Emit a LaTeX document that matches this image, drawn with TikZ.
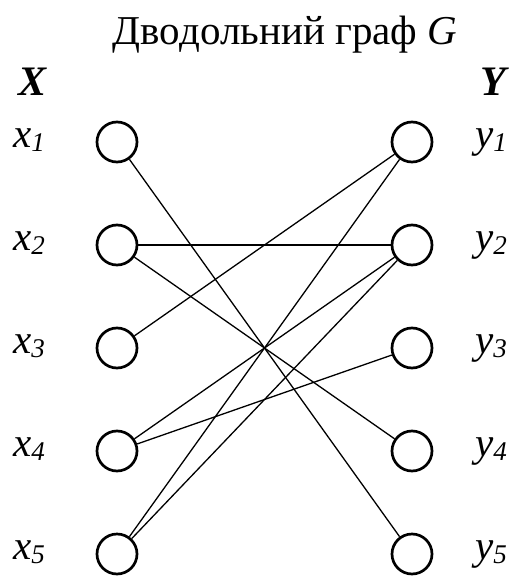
\documentclass[tikz,border=0pt]{standalone}
\usepackage{fontspec}
\setmainfont{Liberation Serif}
\newcommand{\idx}[1]{\raisebox{-4pt}{\fontsize{27}{29}\selectfont #1}}
\begin{document}
\begin{tikzpicture}[x=1pt, y=-1pt,
  vert/.style={draw, circle, line width=2.7pt, minimum size=40pt, inner sep=0pt},
  lbl/.style={font=\fontsize{41}{45}\selectfont\itshape, anchor=base west, inner sep=0pt},
  link/.style={line width=1.3pt}]
  \useasboundingbox (0,0) rectangle (514,578);

  \node[font=\fontsize{41}{45}\selectfont, anchor=base, inner sep=0pt] (title) at (285,45)
    {Дводольний граф \textit{G}};
  \node[lbl, font=\fontsize{42}{46}\selectfont\bfseries\itshape] (setX) at (18,95) {X};
  \node[lbl, font=\fontsize{42}{46}\selectfont\bfseries\itshape] (setY) at (480,95) {Y};

  % left part
  \node[vert] (x1) at (117,142) {};
  \node[vert] (x2) at (117,245) {};
  \node[vert] (x3) at (117,348) {};
  \node[vert] (x4) at (117,451) {};
  \node[vert] (x5) at (117,554) {};
  \node[lbl] (lx1) at (13,147) {x\idx{1}};
  \node[lbl] (lx2) at (13,250) {x\idx{2}};
  \node[lbl] (lx3) at (13,353) {x\idx{3}};
  \node[lbl] (lx4) at (13,456) {x\idx{4}};
  \node[lbl] (lx5) at (13,559) {x\idx{5}};

  % right part
  \node[vert] (y1) at (412,142) {};
  \node[vert] (y2) at (412,245) {};
  \node[vert] (y3) at (412,348) {};
  \node[vert] (y4) at (412,451) {};
  \node[vert] (y5) at (412,554) {};
  \node[lbl] (ly1) at (475,147) {y\idx{1}};
  \node[lbl] (ly2) at (475,250) {y\idx{2}};
  \node[lbl] (ly3) at (475,353) {y\idx{3}};
  \node[lbl] (ly4) at (475,456) {y\idx{4}};
  \node[lbl] (ly5) at (475,559) {y\idx{5}};

  \draw[link] (x1) -- (y5);
  \draw[link] (x2) -- (y2);
  \draw[link] (x2) -- (y4);
  \draw[link] (x3) -- (y1);
  \draw[link] (x4) -- (y2);
  \draw[link] (x4) -- (y3);
  \draw[link] (x5) -- (y1);
  \draw[link] (x5) -- (y2);
\end{tikzpicture}
\end{document}
